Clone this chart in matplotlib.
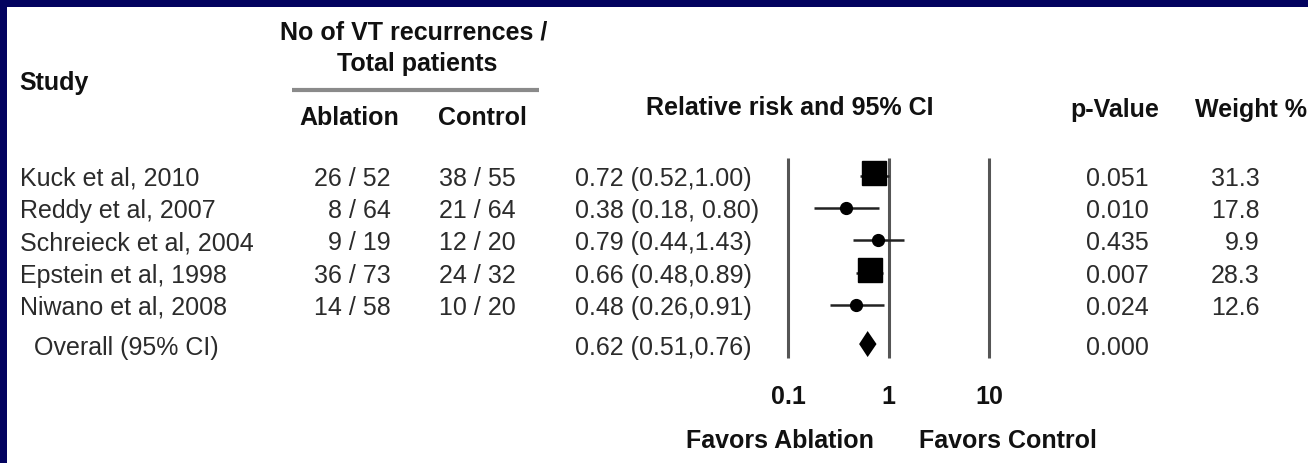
import matplotlib.pyplot as plt
import numpy as np

plt.rcParams['font.family'] = ['Liberation Sans', 'DejaVu Sans']

studies = ['Kuck et al, 2010', 'Reddy et al, 2007', 'Schreieck et al, 2004',
           'Epstein et al, 1998', 'Niwano et al, 2008']
ablation = ['26 / 52', '8 / 64', '9 / 19', '36 / 73', '14 / 58']
control = ['38 / 55', '21 / 64', '12 / 20', '24 / 32', '10 / 20']
rr = [0.72, 0.38, 0.79, 0.66, 0.48]
ci_low = [0.52, 0.18, 0.44, 0.48, 0.26]
ci_high = [1.00, 0.80, 1.43, 0.89, 0.91]
p_values = ['0.051', '0.010', '0.435', '0.007', '0.024']
weights = [31.3, 17.8, 9.9, 28.3, 12.6]

overall_label = 'Overall (95% CI)'
overall_rr = 0.62
overall_low = 0.51
overall_high = 0.76
overall_p = '0.000'

ref_lines = [0.1, 1, 10]
ref_labels = ['0.1', '1', '10']

W, H = 1308, 464
NAVY = '#03035f'
BODY = '#2b2b2b'
FS = 18


def row_y(i):
    return 177 + 32.2 * i


fig = plt.figure(figsize=(W / 100, H / 100), dpi=100)
fig.patch.set_facecolor('white')

# background axes in pixel units for all the table text
bg = fig.add_axes([0, 0, 1, 1])
bg.set_xlim(0, W)
bg.set_ylim(H, 0)
bg.axis('off')

# navy frame on top and left
bg.add_patch(plt.Rectangle((0, 0), W, 8, color=NAVY, lw=0))
bg.add_patch(plt.Rectangle((0, 0), 7, H, color=NAVY, lw=0))

hdr = dict(fontsize=FS, fontweight='bold', color='#111111', va='center')
bg.text(19, 83, 'Study', ha='left', **hdr)
bg.text(414, 33, 'No of VT recurrences /', ha='center', **hdr)
bg.text(417, 64, 'Total patients', ha='center', **hdr)
bg.plot([292, 539], [91, 91], color='#8a8a8a', lw=3, solid_capstyle='butt')
bg.text(349, 118, 'Ablation', ha='center', **hdr)
bg.text(482, 118, 'Control', ha='center', **hdr)
bg.text(790, 108, 'Relative risk and 95% CI', ha='center', **hdr)
bg.text(1115, 110, 'p-Value', ha='center', **hdr)
bg.text(1195, 110, 'Weight %', ha='left', **hdr)

# table text sits a touch below the row centre so the caps line up with marks
dy = 2
txt = dict(fontsize=FS, color=BODY, va='center')
for i, name in enumerate(studies):
    y = row_y(i) + dy
    bg.text(20, y, name, ha='left', **txt)
    bg.text(391, y, ablation[i], ha='right', **txt)
    bg.text(516, y, control[i], ha='right', **txt)
    bg.text(575, y, f'{rr[i]:.2f} ({ci_low[i]:.2f},{ci_high[i]:.2f})'
            if i != 1 else f'{rr[i]:.2f} ({ci_low[i]:.2f}, {ci_high[i]:.2f})',
            ha='left', **txt)
    bg.text(1117, y, p_values[i], ha='center', **txt)
    bg.text(1260, y, f'{weights[i]:.1f}', ha='right', **txt)

y_all = row_y(5.25)
bg.text(34, y_all + dy, overall_label, ha='left', **txt)
bg.text(575, y_all + dy, f'{overall_rr:.2f} ({overall_low:.2f},{overall_high:.2f})',
        ha='left', **txt)
bg.text(1117, y_all + dy, overall_p, ha='center', **txt)

# forest plot on a log axis: 1 sits at x=888 px, one decade = 100.5 px
left_px, right_px = 740, 1040
x_one, decade = 888.5, 100.5
ax = fig.add_axes([left_px / W, 0, (right_px - left_px) / W, 1])
ax.set_xscale('log')
ax.set_xlim(10 ** ((left_px - x_one) / decade), 10 ** ((right_px - x_one) / decade))
ax.set_ylim(H, 0)
ax.axis('off')
ax.patch.set_alpha(0)

ax.vlines(ref_lines, 159, 359, color='#555555', lw=2.2)

for i in range(len(studies)):
    y = row_y(i)
    ax.hlines(y, ci_low[i], ci_high[i], color='#222222', lw=1.8)
    if weights[i] > 20:
        ax.plot(rr[i], y - 3, marker='s', ms=17, color='black', mec='black')
    else:
        ax.plot(rr[i], y, marker='o', ms=8.5, color='black', mec='black')

ax.fill([overall_low, overall_rr, overall_high, overall_rr],
        [y_all - 1, y_all - 14, y_all - 1, y_all + 12], color='black', lw=0)

for v, lab in zip(ref_lines, ref_labels):
    ax.text(v, 397, lab, ha='center', va='center', fontsize=FS,
            fontweight='bold', color='#111111')

bg.text(780, 441, 'Favors Ablation', ha='center', **hdr)
bg.text(1008, 441, 'Favors Control', ha='center', **hdr)

fig.savefig('out.png', dpi=100, facecolor='white')
